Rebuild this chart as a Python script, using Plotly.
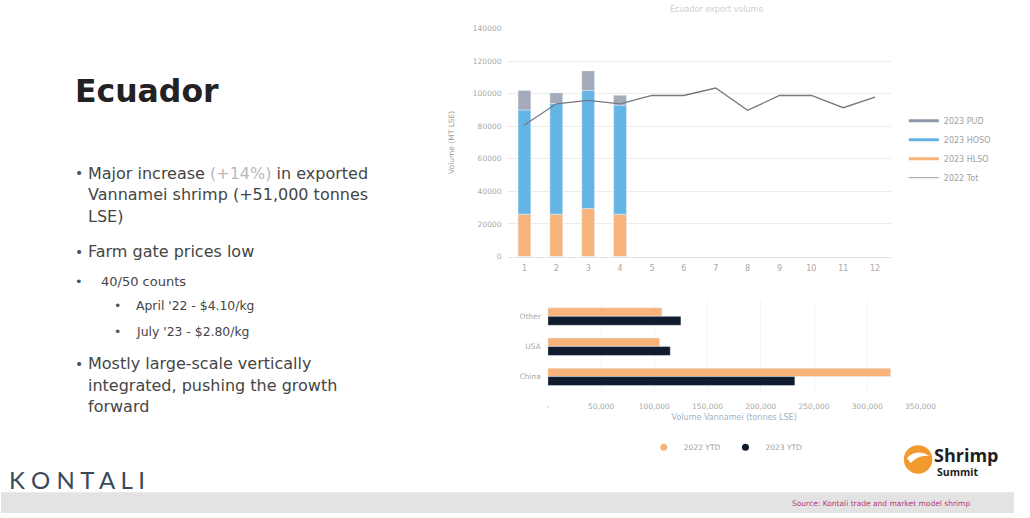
import plotly.graph_objects as go

# ---------------- data ----------------
months = [str(i) for i in range(1, 13)]
bar_months = ["1", "2", "3", "4"]
hlso_2023 = [26000, 26000, 29500, 26000]
hoso_2023 = [64000, 68000, 72500, 67000]
pud_2023 = [12000, 6500, 12000, 6000]
total_2022 = [80800, 93800, 95900, 93800, 98900, 98900, 103500, 89800, 98900, 98900, 91400, 97900]
y_tick_vals = [0, 20000, 40000, 60000, 80000, 100000, 120000, 140000]
y_tick_text = ["0", "20000", "40000", "60000", "80000", "100000", "120000", "140000"]

markets = ["China", "USA", "Other"]
ytd_2022 = [322000, 105000, 107000]
ytd_2023 = [232000, 115000, 125000]
x2_tick_vals = [0, 50000, 100000, 150000, 200000, 250000, 300000, 350000]
x2_tick_text = ["-", "50,000", "100,000", "150,000", "200,000", "250,000", "300,000", "350,000"]

# ---------------- style ----------------
W, H = 1030, 518
C_ORANGE = "#f8b37a"
C_BLUE = "#64b5e6"
C_GREY = "#a3abba"
C_LINE = "#737880"
C_NAVY = "#101c2e"
C_TICK = "#a8a8a8"


def X(px):
    return px / W


def Y(py):
    return 1 - py / H


# stacking bases derived from the series
base_hoso = list(hlso_2023)
base_pud = [a + b for a, b in zip(hlso_2023, hoso_2023)]

fig = go.Figure()

# top chart: stacked bars + line
fig.add_trace(go.Bar(x=bar_months, y=hlso_2023, marker_color=C_ORANGE, width=0.4,
                     showlegend=False, xaxis="x", yaxis="y"))
fig.add_trace(go.Bar(x=bar_months, y=hoso_2023, base=base_hoso, marker_color=C_BLUE, width=0.4,
                     showlegend=False, xaxis="x", yaxis="y"))
fig.add_trace(go.Bar(x=bar_months, y=pud_2023, base=base_pud, marker_color=C_GREY, width=0.4,
                     showlegend=False, xaxis="x", yaxis="y"))
fig.add_trace(go.Scatter(x=months, y=total_2022, mode="lines", line=dict(color=C_LINE, width=1.3),
                         showlegend=False, xaxis="x", yaxis="y"))

# legend entries for the top chart (line samples)
for name, col, wd in [("2023 PUD", "#8d96a8", 3), ("2023 HOSO", C_BLUE, 3),
                      ("2023 HLSO", C_ORANGE, 3), ("2022 Tot", "#b0b0b0", 1.3)]:
    fig.add_trace(go.Scatter(x=[None], y=[None], mode="lines", name=name,
                             line=dict(color=col, width=wd), legend="legend",
                             xaxis="x", yaxis="y"))

# bottom chart: horizontal bars
fig.add_trace(go.Bar(y=markets, x=ytd_2022, orientation="h", marker_color=C_ORANGE,
                     width=0.28, offset=0.0, showlegend=False, xaxis="x2", yaxis="y2"))
fig.add_trace(go.Bar(y=markets, x=ytd_2023, orientation="h", marker_color=C_NAVY,
                     width=0.3, offset=-0.3, showlegend=False, xaxis="x2", yaxis="y2"))
fig.add_trace(go.Scatter(x=[None], y=[None], mode="markers", name="2022 YTD",
                         marker=dict(color=C_ORANGE, size=7), legend="legend2",
                         xaxis="x2", yaxis="y2"))
fig.add_trace(go.Scatter(x=[None], y=[None], mode="markers", name="2023 YTD",
                         marker=dict(color=C_NAVY, size=7), legend="legend2",
                         xaxis="x2", yaxis="y2"))

fig.update_layout(
    autosize=True,
    margin=dict(l=0, r=0, t=0, b=0),
    paper_bgcolor="white", plot_bgcolor="white",
    barmode="overlay",
    font=dict(family="DejaVu Sans", color="#444444"),
    xaxis=dict(domain=[X(516), X(905)], type="category", categoryorder="array",
               categoryarray=months, range=[-0.5, 11.5], showgrid=False,
               showline=True, linecolor="#e2e2e2", ticks="", ticklabelstandoff=4,
               tickfont=dict(size=8, color=C_TICK), anchor="y"),
    yaxis=dict(domain=[Y(257), Y(25)], range=[0, 140000], tickvals=y_tick_vals,
               ticktext=y_tick_text, showgrid=True, gridcolor="#ececec", gridwidth=1,
               zeroline=False, ticks="", ticklabelstandoff=6,
               tickfont=dict(size=7.5, color=C_TICK), anchor="x"),
    xaxis2=dict(domain=[X(556), X(935)], range=[0, 350000], tickvals=x2_tick_vals,
                ticktext=x2_tick_text, showgrid=True, gridcolor="#f4f4f4",
                zeroline=False, ticks="", ticklabelstandoff=9,
                tickfont=dict(size=7.5, color=C_TICK),
                title=dict(text="Volume Vannamei (tonnes LSE)", font=dict(size=8, color="#9fb3c3"),
                           standoff=4),
                anchor="y2"),
    yaxis2=dict(domain=[Y(394.5), Y(302.5)], type="category", categoryorder="array",
                categoryarray=markets, range=[-0.5, 2.5], showgrid=False, ticks="",
                ticklabelstandoff=6, tickfont=dict(size=7.5, color=C_TICK), anchor="x2"),
    legend=dict(x=X(918), y=Y(104), xanchor="left", yanchor="top", traceorder="normal",
                font=dict(size=8, color="#a0a0a0"), bgcolor="rgba(0,0,0,0)",
                tracegroupgap=0, itemwidth=30),
    legend2=dict(orientation="h", x=X(737), y=Y(451), xanchor="center", yanchor="middle",
                 traceorder="normal",
                 font=dict(size=7.5, color="#a0a0a0"), bgcolor="rgba(0,0,0,0)"),
)

ann = []
# chart title (faint)
ann.append(dict(text="Ecuador export volume", x=X(727), y=Y(6), xref="paper", yref="paper",
                showarrow=False, font=dict(size=8, color="#cfcfcf"), xanchor="center",
                yanchor="middle"))
# y-axis title
ann.append(dict(text="Volume (MT LSE)", x=X(458), y=Y(141), xref="paper", yref="paper",
                showarrow=False, textangle=-90, font=dict(size=7.5, color="#a0a0a0"),
                xanchor="center", yanchor="middle"))

# left side text
ann.append(dict(text="<b>Ecuador</b>", x=X(73), y=Y(89), xref="paper", yref="paper",
                showarrow=False, font=dict(size=31.5, color="#222222"), xanchor="left",
                yanchor="middle"))
body = [
    (73, 86, 172, "Major increase <span style='color:#b9b9b9'>(+14%)</span> in exported", 16, True),
    (73, 86, 194, "Vannamei shrimp (+51,000 tonnes", 16, False),
    (73, 86, 216, "LSE)", 16, False),
    (73, 86, 252, "Farm gate prices low", 16, True),
    (73, 100, 282, "40/50 counts", 13, True),
    (113, 135, 307, "April '22 - $4.10/kg", 12.4, True),
    (113, 135, 333, "July '23 - $2.80/kg", 12.4, True),
    (73, 86, 366, "Mostly large-scale vertically", 16, True),
    (73, 86, 388, "integrated, pushing the growth", 16, False),
    (73, 86, 410, "forward", 16, False),
]
for bx, tx, ty, txt, sz, bullet in body:
    if bullet:
        ann.append(dict(text="•", x=X(bx), y=Y(ty), xref="paper", yref="paper",
                        showarrow=False, font=dict(size=min(sz, 14), color="#555555"),
                        xanchor="left", yanchor="middle"))
    ann.append(dict(text=txt, x=X(tx), y=Y(ty), xref="paper", yref="paper",
                    showarrow=False, font=dict(size=sz, color="#454545"),
                    xanchor="left", yanchor="middle"))

# KONTALI logo text
ann.append(dict(text="K O N T A L I", x=X(6), y=Y(484), xref="paper", yref="paper",
                showarrow=False, font=dict(size=24, color="#3a4a5b", family="Lato"),
                xanchor="left", yanchor="middle"))
# Shrimp Summit logo text
ann.append(dict(text="<b>Shrimp</b>", x=X(947), y=Y(459), xref="paper", yref="paper",
                showarrow=False, font=dict(size=18, color="#1e1e1e", family="Open Sans"),
                xanchor="left", yanchor="middle"))
ann.append(dict(text="<b>Summit</b>", x=X(950), y=Y(476), xref="paper", yref="paper",
                showarrow=False, font=dict(size=10.5, color="#1e1e1e", family="Open Sans"),
                xanchor="left", yanchor="middle"))
# source text
ann.append(dict(text="Source: Kontali trade and market model shrimp", x=X(802), y=Y(508),
                xref="paper", yref="paper", showarrow=False,
                font=dict(size=7.5, color="#b8397a"), xanchor="left", yanchor="middle"))

shapes = [
    dict(type="rect", xref="paper", yref="paper", x0=0, x1=1, y0=0, y1=Y(497),
         fillcolor="#e3e3e3", line=dict(width=0), layer="below"),
    dict(type="circle", xref="paper", yref="paper", x0=X(918), x1=X(947), y0=Y(478), y1=Y(449),
         fillcolor="#f29a2e", line=dict(width=0)),
    dict(type="path", xref="paper", yref="paper",
         path=f"M {X(921)},{Y(462)} Q {X(932)},{Y(452)} {X(944)},{Y(460)} Q {X(934)},{Y(458)} {X(925)},{Y(467)} Z",
         fillcolor="white", line=dict(width=0)),
]

fig.update_layout(annotations=ann, shapes=shapes)
fig.write_html(
    "out.html",
    config={"displayModeBar": False, "responsive": True},
    default_width="100vw",
    default_height="100vh",
    post_script=("document.documentElement.style.overflow='hidden';"
                 "document.body.style.margin='0';document.body.style.overflow='hidden';"
                 "Plotly.Plots.resize(document.getElementById('{plot_id}'));"),
)
